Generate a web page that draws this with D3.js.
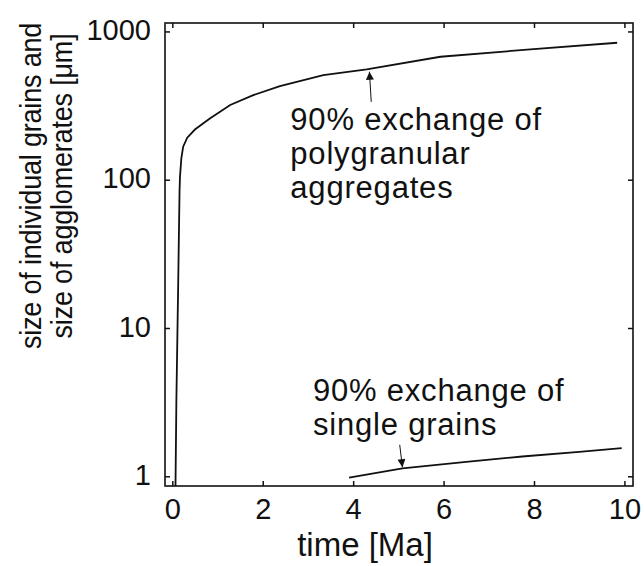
<!DOCTYPE html>
<html>
<head>
<meta charset="utf-8">
<script src="https://cdn.jsdelivr.net/npm/d3@7"></script>
<style>
  body { margin: 0; background: #fff; }
</style>
</head>
<body>
<div id="chart"></div>
<script>
// polygranular aggregates (time in Ma, size in micrometres)
var aggTime = [0.07, 0.09, 0.13, 0.15, 0.16, 0.17, 0.20, 0.24, 0.33, 0.50, 0.83, 1.28, 1.79, 2.38, 3.34, 4.30, 5.93, 7.92, 9.84];
var aggSize = [0.86, 3.3, 20, 53, 85, 105, 140, 167, 192, 218, 259, 319, 372, 428, 508, 555, 675, 757, 839];
// single grains
var grainTime = [3.91, 5.09, 6.5, 7.74, 9.0, 9.94];
var grainSize = [0.98, 1.13, 1.25, 1.36, 1.46, 1.55];

var xTicks = [0, 2, 4, 6, 8, 10];
var yTicks = [1, 10, 100, 1000];

// annotations: label anchor + arrow (tail -> tip), in data units
var aggLabel = ["90% exchange of", "polygranular", "aggregates"];
var aggLabelAt = [2.61, 216];
var aggArrow = [[4.40, 335], [4.36, 535]];
var grainLabel = ["90% exchange of", "single grains"];
var grainLabelAt = [3.11, 3.2];
var grainArrow = [[5.03, 1.63], [5.09, 1.15]];

var FONT = "'Liberation Sans', Arimo, Arial, Helvetica, sans-serif";
var W = 644, H = 566;
var margin = {left: 165, top: 23, right: 11, bottom: 80};
var w = W - margin.left - margin.right, h = H - margin.top - margin.bottom;

var svg = d3.select("#chart").append("svg")
    .attr("width", W).attr("height", H)
    .style("font-family", FONT);

svg.append("defs").append("clipPath").attr("id", "clip")
  .append("rect").attr("width", w).attr("height", h);
svg.select("defs").append("marker")
    .attr("id", "head").attr("viewBox", "0 0 10 10")
    .attr("refX", 10).attr("refY", 5)
    .attr("markerWidth", 10).attr("markerHeight", 8)
    .attr("markerUnits", "userSpaceOnUse")
    .attr("orient", "auto")
  .append("path").attr("d", "M0,0L10,5L0,10Z").attr("fill", "#111");

var g = svg.append("g").attr("transform", "translate(" + margin.left + "," + margin.top + ")");

var x = d3.scaleLinear().domain([-0.162, 10.19]).range([0, w]);
var y = d3.scaleLog().domain([0.86, 1140]).range([h, 0]);

// axes with inward ticks
var fontSize = 29;
function styleText(a) {
  a.selectAll("text").attr("font-family", FONT).attr("font-size", fontSize).attr("fill", "#111");
}
g.append("g").attr("transform", "translate(0," + h + ")")
  .call(d3.axisBottom(x).tickValues(xTicks).tickSizeInner(-5).tickSizeOuter(0).tickPadding(12))
  .call(function (a) { a.select(".domain").remove(); styleText(a); a.selectAll("text").attr("dy", "0.71em"); });
g.append("g")
  .call(d3.axisTop(x).tickValues(xTicks).tickSizeInner(-5).tickSizeOuter(0).tickFormat(""))
  .call(function (a) { a.select(".domain").remove(); });
g.append("g")
  .call(d3.axisLeft(y).tickValues(yTicks).tickFormat(d3.format("d")).tickSizeInner(-5).tickSizeOuter(0).tickPadding(14))
  .call(function (a) { a.select(".domain").remove(); styleText(a); a.selectAll("text").attr("dy", "0.28em"); });
g.append("g").attr("transform", "translate(" + w + ",0)")
  .call(d3.axisRight(y).tickValues(yTicks).tickSizeInner(-5).tickSizeOuter(0).tickFormat(""))
  .call(function (a) { a.select(".domain").remove(); });
g.selectAll(".tick line").attr("stroke", "#111").attr("stroke-width", 1.5);

g.append("rect").attr("width", w).attr("height", h)
  .attr("fill", "none").attr("stroke", "#111").attr("stroke-width", 1.6);

var line = d3.line()
  .x(function (d) { return x(d[0]); })
  .y(function (d) { return y(d[1]); });

var curves = g.append("g").attr("clip-path", "url(#clip)");
curves.append("path").datum(d3.zip(aggTime, aggSize))
  .attr("d", line).attr("fill", "none").attr("stroke", "#111").attr("stroke-width", 1.8);
curves.append("path").datum(d3.zip(grainTime, grainSize))
  .attr("d", line).attr("fill", "none").attr("stroke", "#111").attr("stroke-width", 1.8);

// arrows
[aggArrow, grainArrow].forEach(function (a) {
  g.append("line")
    .attr("x1", x(a[0][0])).attr("y1", y(a[0][1]))
    .attr("x2", x(a[1][0])).attr("y2", y(a[1][1]))
    .attr("stroke", "#111").attr("stroke-width", 1)
    .attr("marker-end", "url(#head)");
});

// labels
function label(lines, at) {
  var t = g.append("text")
    .attr("x", x(at[0])).attr("y", y(at[1]))
    .attr("font-family", FONT).attr("font-size", 31).attr("fill", "#111")
    .style("letter-spacing", "0.8px");
  t.selectAll("tspan").data(lines).enter().append("tspan")
    .attr("x", x(at[0])).attr("dy", function (d, i) { return i ? 34 : 0; })
    .text(function (d) { return d; });
}
label(aggLabel, aggLabelAt);
label(grainLabel, grainLabelAt);

// axis titles
svg.append("text").attr("x", 365).attr("y", 556)
  .attr("text-anchor", "middle").attr("font-family", FONT).attr("font-size", 33).attr("fill", "#111")
  .text("time [Ma]");
var yt = svg.append("text").attr("transform", "translate(0,186) rotate(-90) scale(0.9,1)")
  .attr("text-anchor", "middle").attr("font-family", FONT).attr("font-size", 30).attr("fill", "#111")
  .style("letter-spacing", "-0.2px");
yt.append("tspan").attr("x", 0).attr("y", 41).text("size of individual grains and");
yt.append("tspan").attr("x", 0).attr("y", 72).text("size of agglomerates [μm]");
</script>
</body>
</html>
